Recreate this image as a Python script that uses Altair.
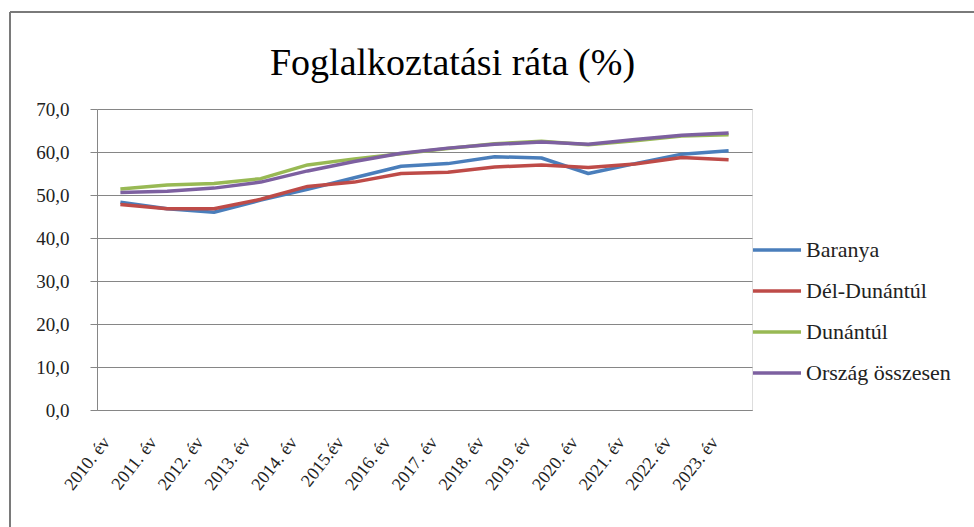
import altair as alt
import pandas as pd

years = ["2010. év", "2011. év", "2012. év", "2013. év", "2014. év", "2015.év", "2016. év",
         "2017. év", "2018. év", "2019. év", "2020. év", "2021. év", "2022. év", "2023. év"]

baranya = [48.3, 46.8, 46.0, 48.8, 51.3, 54.0, 56.7, 57.3, 58.9, 58.6, 55.0, 57.3, 59.5, 60.3]
del_dunantul = [47.8, 46.8, 46.8, 49.0, 52.0, 53.0, 55.0, 55.3, 56.5, 57.0, 56.4, 57.2, 58.7, 58.2]
dunantul = [51.4, 52.3, 52.7, 53.8, 57.0, 58.4, 59.6, 60.8, 61.9, 62.5, 61.7, 62.6, 63.7, 64.0]
orszag = [50.6, 50.9, 51.6, 53.0, 55.6, 57.8, 59.7, 60.9, 61.8, 62.3, 61.8, 62.9, 63.9, 64.4]

series_names = ["Baranya", "Dél-Dunántúl", "Dunántúl", "Ország összesen"]
series_values = [baranya, del_dunantul, dunantul, orszag]
series_colors = ["#4A7EBB", "#BE4B48", "#98B954", "#7D60A0"]

rows = []
for order, (name, vals) in enumerate(zip(series_names, series_values)):
    for year, v in zip(years, vals):
        rows.append({"ev": year, "ertek": v, "sorozat": name, "rend": order})
df = pd.DataFrame(rows)

FONT = "'Liberation Serif', 'DejaVu Serif', serif"
W, H = 655, 301

lines = alt.Chart(df).mark_line(strokeWidth=3.5, strokeJoin="round").encode(
    x=alt.X("ev:N", sort=years, title=None,
            scale=alt.Scale(type="point", padding=0.5),
            axis=alt.Axis(labelAngle=-52, labelAlign="right", labelBaseline="middle",
                          labelFont=FONT, labelFontSize=18, labelColor="#222",
                          labelPadding=29, labelOffset=-14, ticks=False, domain=True,
                          domainColor="#868686", grid=False)),
    y=alt.Y("ertek:Q", title=None,
            scale=alt.Scale(domain=[0, 70], nice=False),
            axis=alt.Axis(values=[0, 10, 20, 30, 40, 50, 60, 70],
                          labelExpr="replace(format(datum.value, '.1f'), '.', ',')",
                          labelFont=FONT, labelFontSize=19, labelColor="#222",
                          labelPadding=21, tickSize=7, tickColor="#868686",
                          domainColor="#868686", gridColor="#868686",
                          gridWidth=1)),
    color=alt.Color("sorozat:N", sort=series_names,
                    scale=alt.Scale(domain=series_names, range=series_colors),
                    legend=alt.Legend(title=None, orient="none", legendX=654, legendY=115,
                                      symbolType="stroke", symbolSize=2304,
                                      symbolStrokeWidth=3.5, rowPadding=4,
                                      labelFont=FONT, labelFontSize=22,
                                      labelColor="#222", labelOffset=3)),
    order=alt.Order("rend:Q"),
    detail="sorozat:N",
)

# outer frame of the chart (top and left edges)
frame_top = alt.Chart(df).mark_rule(color="#7a7a7a", strokeWidth=2).encode(
    x=alt.value(-87), x2=alt.value(900), y=alt.value(-97))
frame_left = alt.Chart(df).mark_rule(color="#7a7a7a", strokeWidth=2).encode(
    x=alt.value(-87), y=alt.value(-97), y2=alt.value(440))

chart = alt.layer(lines, frame_top, frame_left).properties(
    width=W, height=H,
    title=alt.TitleParams("Foglalkoztatási ráta (%)", font=FONT, fontSize=38,
                          fontWeight="normal", color="#000", anchor="middle",
                          dx=28, offset=-72),
    padding={"left": 97, "top": 109, "right": 222, "bottom": 117},
    autosize=alt.AutoSizeParams(type="none"),
).configure_view(stroke=None).configure(background="white")

chart.save("out.html", embed_options={"renderer": "svg", "actions": False})
